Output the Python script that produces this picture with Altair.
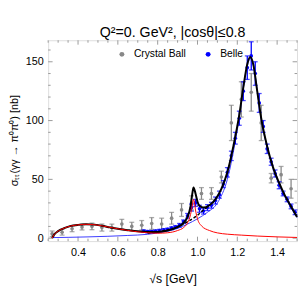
import altair as alt
import pandas as pd

# ---------------- data ----------------
# Crystal Ball (gray)
cb_x = [0.27, 0.32, 0.37, 0.42, 0.47, 0.52, 0.57, 0.62, 0.67, 0.72, 0.77, 0.82, 0.87, 0.92, 0.97,
        1.02, 1.07, 1.12, 1.17, 1.22, 1.27, 1.32, 1.37, 1.42, 1.47]
cb_y = [3.7, 5.0, 8.0, 9.5, 10.0, 9.0, 9.0, 12.0, 10.0, 11.0, 12.5, 12.0, 17.0, 24.0, 30.0,
        38.0, 38.0, 52.0, 98.0, 118.0, 124.0, 98.0, 51.0, 54.0, 42.0]
cb_e = [2.4, 2.4, 2.5, 2.5, 2.8, 3.0, 3.0, 4.0, 3.5, 4.0, 5.0, 5.0, 5.0, 5.5, 6.0,
        5.0, 5.0, 5.0, 15.0, 15.0, 16.0, 15.0, 4.0, 7.0, 8.0]

# Belle (blue)
be_x = [0.73, 0.75, 0.77, 0.79, 0.81, 0.83, 0.85, 0.87, 0.89, 0.91, 0.93, 0.95, 0.97, 0.99,
        1.01, 1.03, 1.05, 1.07, 1.09, 1.11, 1.13, 1.15, 1.17, 1.19, 1.21, 1.23, 1.25, 1.27,
        1.29, 1.31, 1.33, 1.35, 1.37, 1.39, 1.41, 1.43, 1.45, 1.47, 1.49]
be_y = [6.0, 5.5, 5.5, 6.0, 6.5, 7.0, 7.5, 8.5, 9.5, 11.0, 14.0, 19.0, 26.0, 30.0,
        25.0, 23.0, 26.0, 28.0, 32.0, 37.0, 46.0, 56.0, 70.0, 85.0, 102.0, 125.0, 145.0, 155.0,
        140.0, 115.0, 95.0, 76.0, 65.0, 55.0, 45.0, 38.0, 33.0, 27.0, 22.0]
be_e = [1.0, 1.0, 1.0, 1.0, 1.0, 1.0, 1.0, 1.2, 1.2, 1.5, 1.5, 2.0, 3.0, 3.0,
        3.0, 2.5, 2.5, 2.5, 3.0, 3.0, 3.0, 4.0, 4.0, 5.0, 6.0, 8.0, 10.0, 12.0,
        10.0, 8.0, 5.0, 4.0, 3.0, 3.0, 3.0, 2.0, 2.0, 2.0, 2.0]

# Total (thick black)
tot_x = [0.27, 0.28, 0.30, 0.33, 0.36, 0.40, 0.44, 0.48, 0.52, 0.56, 0.60, 0.65, 0.70, 0.75,
         0.80, 0.85, 0.90, 0.93, 0.95, 0.965, 0.975, 0.98, 0.99, 1.00, 1.01, 1.03, 1.06, 1.09,
         1.12, 1.15, 1.18, 1.21, 1.23, 1.25, 1.265, 1.28, 1.30, 1.32, 1.35, 1.38, 1.41, 1.44,
         1.47, 1.50]
tot_y = [0.0, 3.0, 6.0, 8.5, 10.2, 11.3, 11.8, 11.5, 10.5, 9.2, 8.0, 6.8, 5.8, 5.3,
         5.3, 6.5, 9.5, 13.0, 18.0, 27.0, 39.0, 43.0, 38.0, 31.0, 27.5, 26.0, 28.0, 33.0,
         42.0, 56.0, 78.0, 105.0, 128.0, 148.0, 154.0, 148.0, 125.0, 102.0, 78.0, 60.0, 47.0, 36.0,
         27.0, 18.0]

# S-wave (red)
red_x = [0.27, 0.28, 0.30, 0.33, 0.36, 0.40, 0.44, 0.48, 0.52, 0.56, 0.60, 0.65, 0.70, 0.75,
         0.80, 0.85, 0.90, 0.93, 0.95, 0.965, 0.975, 0.98, 0.985, 0.99, 1.00, 1.02, 1.06, 1.10,
         1.15, 1.22, 1.30, 1.40, 1.50]
red_y = [0.0, 3.0, 6.0, 8.5, 10.2, 11.3, 11.8, 11.5, 10.5, 9.2, 8.0, 6.6, 5.4, 4.6,
         4.2, 4.6, 6.5, 9.0, 13.0, 20.0, 29.0, 33.0, 30.0, 24.0, 16.5, 10.5, 6.5, 4.5,
         3.4, 2.6, 1.8, 1.1, 0.6]

# D-wave (thin blue)
blu_x = [0.27, 0.35, 0.45, 0.55, 0.65, 0.75, 0.85, 0.90, 0.95, 1.00, 1.05, 1.10, 1.15, 1.20,
         1.25, 1.265, 1.28, 1.32, 1.38, 1.44, 1.50]
blu_y = [0.5, 0.7, 1.1, 1.6, 2.3, 3.3, 6.0, 8.3, 12.0, 16.5, 22.0, 30.0, 50.0, 92.0,
         146.0, 153.0, 147.0, 101.0, 59.0, 35.0, 17.5]

# dashed black
dsh_x = [0.75, 0.80, 0.85, 0.90, 0.95, 1.00, 1.03, 1.06]
dsh_y = [4.3, 5.3, 7.0, 9.6, 14.0, 19.5, 24.0, 28.0]

# axis ticks
x_major = [0.4, 0.6, 0.8, 1.0, 1.2, 1.4]
x_minor = [0.25, 0.3, 0.35, 0.45, 0.5, 0.55, 0.65, 0.7, 0.75, 0.85, 0.9, 0.95,
           1.05, 1.1, 1.15, 1.25, 1.3, 1.35, 1.45, 1.5]
y_major = [0, 50, 100, 150]
y_minor = [10, 20, 30, 40, 60, 70, 80, 90, 110, 120, 130, 140, 160]

# ---------------- chart ----------------
W, H = 254, 205
FONT = "Liberation Sans"
GRAY = "#888888"
FRAME = "#9a9a9a"
BLUE = "#0000ff"

xs = alt.Scale(domain=[0.25, 1.5], nice=False, zero=False)
ys = alt.Scale(domain=[-2.5, 168.3], nice=False, zero=False)

cb = pd.DataFrame({"x": cb_x, "y": cb_y, "lo": [a - b for a, b in zip(cb_y, cb_e)],
                   "hi": [a + b for a, b in zip(cb_y, cb_e)], "src": "Crystal Ball"})
be = pd.DataFrame({"x": be_x, "y": be_y, "lo": [a - b for a, b in zip(be_y, be_e)],
                   "hi": [a + b for a, b in zip(be_y, be_e)], "src": "Belle"})
pts = pd.concat([cb, be])

xenc = alt.X("x:Q", scale=xs, axis=alt.Axis(
    values=x_major, format=".1f", ticks=False, domain=False, grid=False,
    labelFont=FONT, labelFontSize=11, labelColor="black", labelPadding=6,
    title="√s  [GeV]", titleFont=FONT, titleFontSize=12.5, titleFontWeight="normal",
    titleColor="black", titleX=127, titleY=38, titleBaseline="middle"))
yenc = alt.Y("y:Q", scale=ys, axis=alt.Axis(
    values=y_major, ticks=False, domain=False, grid=False,
    labelFont=FONT, labelFontSize=11, labelColor="black", labelPadding=5,
    title="σₜₜ(γγ → π⁰π⁰) [nb]", titleFont=FONT, titleFontSize=11,
    titleFontWeight="normal", titleColor="black", titleX=-34, titleY=102,
    titleAngle=270, titleAlign="center", titleBaseline="middle"))

def err_layers(df, color):
    base = alt.Chart(df)
    bars = base.mark_rule(color=color, strokeWidth=1.3).encode(
        x=alt.X("x:Q", scale=xs), y=alt.Y("lo:Q", scale=ys), y2="hi:Q")
    c1 = base.mark_tick(color=color, orient="horizontal", size=5, thickness=1.3).encode(
        x=alt.X("x:Q", scale=xs), y=alt.Y("lo:Q", scale=ys))
    c2 = base.mark_tick(color=color, orient="horizontal", size=5, thickness=1.3).encode(
        x=alt.X("x:Q", scale=xs), y=alt.Y("hi:Q", scale=ys))
    return [bars, c1, c2]

points = alt.Chart(pts).mark_circle(size=14, opacity=1).encode(
    x=xenc, y=yenc,
    color=alt.Color("src:N", scale=alt.Scale(domain=["Crystal Ball", "Belle"], range=[GRAY, BLUE]),
                    legend=alt.Legend(title=None, orient="none", legendX=70, legendY=9,
                                      direction="horizontal", symbolType="circle",
                                      symbolSize=25, labelFont=FONT, labelFontSize=10.5,
                                      labelColor="black", columnPadding=17, labelOffset=7,
                                      padding=0)))

def line(xv, yv, color, width, dash=None):
    df = pd.DataFrame({"x": xv, "y": yv})
    kw = dict(color=color, strokeWidth=width, interpolate="monotone")
    if dash:
        kw["strokeDash"] = dash
    return alt.Chart(df).mark_line(**kw).encode(
        x=alt.X("x:Q", scale=xs), y=alt.Y("y:Q", scale=ys))

def tick_layer(vals, axis, length):
    df = pd.DataFrame({"v": vals})
    base = alt.Chart(df).mark_rule(color=FRAME, strokeWidth=1)
    if axis == "x":
        return [base.encode(x=alt.X("v:Q", scale=xs), y=alt.value(H), y2=alt.value(H - length)),
                base.encode(x=alt.X("v:Q", scale=xs), y=alt.value(0), y2=alt.value(length))]
    return [base.encode(y=alt.Y("v:Q", scale=ys), x=alt.value(0), x2=alt.value(length)),
            base.encode(y=alt.Y("v:Q", scale=ys), x=alt.value(W), x2=alt.value(W - length))]

layers = []
layers += tick_layer(x_major, "x", 4.5) + tick_layer(x_minor, "x", 2.5)
layers += tick_layer(y_major, "y", 4.5) + tick_layer(y_minor, "y", 2.5)
layers += err_layers(cb, GRAY)
layers += [line(blu_x, blu_y, "#3a3aff", 1.0)]
layers += err_layers(be, BLUE)
layers += [line(dsh_x, dsh_y, "black", 1.5, [3, 2]), line(tot_x, tot_y, "black", 2.0),
           line(red_x, red_y, "#ff0000", 1.0)]
layers = [points] + layers

chart = alt.layer(*layers).properties(
    width=W, height=H,
    title=alt.TitleParams("Q²=0. GeV², |cosθ|≤0.8", font=FONT, fontSize=14.5,
                          fontWeight="normal", color="black", offset=-1),
    autosize=alt.AutoSizeParams(type="none"),
    padding={"left": 41, "top": 30, "right": 2, "bottom": 48},
).configure_view(stroke=FRAME, strokeWidth=1).configure(background="white")

chart.save("out.html", embed_options={"renderer": "svg", "actions": False})
